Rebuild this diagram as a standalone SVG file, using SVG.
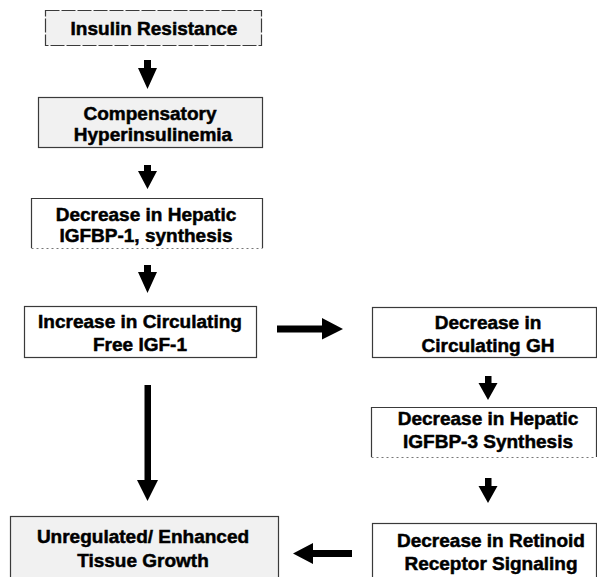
<svg xmlns="http://www.w3.org/2000/svg" width="597" height="577" viewBox="0 0 597 577">
<style>
.box{fill:#ffffff;stroke:#3a3a3a;stroke-width:1.2}
.gbox{fill:#f1f1f1;stroke:#3a3a3a;stroke-width:1.2}
.dash{fill:none;stroke:#777;stroke-width:1;stroke-dasharray:2 3}
text{font-family:"Liberation Sans",Arial,sans-serif;font-weight:bold;font-size:19px;fill:#000;stroke:#000;stroke-width:0.5;text-anchor:middle}
.arr{fill:#000}
</style>
<rect width="597" height="577" fill="#fff"/>
<g id="n1">
<rect class="gbox" x="45.5" y="10.5" width="216" height="35" stroke-dasharray="14 2"/>
<text x="154" y="35">Insulin Resistance</text>
</g>
<g id="n2">
<rect class="gbox" x="38.5" y="97.5" width="224" height="50"/>
<text x="150" y="120">Compensatory</text>
<text x="153" y="141">Hyperinsulinemia</text>
</g>
<g id="n3">
<path class="box" d="M31.5 248 V198.5 H262.5 V248" fill="none"/>
<line class="dash" x1="31.5" y1="248.5" x2="262.5" y2="248.5"/>
<text x="146" y="221">Decrease in Hepatic</text>
<text x="146" y="242">IGFBP-1, synthesis</text>
</g>
<g id="n4">
<rect class="box" x="24.5" y="306.5" width="232" height="51"/>
<text x="140" y="328">Increase in Circulating</text>
<text x="140" y="351">Free IGF-1</text>
</g>
<g id="n5">
<rect class="gbox" x="10.5" y="516.5" width="268" height="70"/>
<text x="143" y="543">Unregulated/ Enhanced</text>
<text x="143" y="567">Tissue Growth</text>
</g>
<g id="n6">
<rect class="box" x="372.5" y="307.5" width="224" height="50"/>
<text x="488" y="329">Decrease in</text>
<text x="488" y="352">Circulating GH</text>
</g>
<g id="n7">
<path class="box" d="M371.5 457 V407.5 H596.5 V457" fill="none"/>
<line class="dash" x1="371.5" y1="457.5" x2="596.5" y2="457.5"/>
<text x="488" y="425">Decrease in Hepatic</text>
<text x="488" y="448">IGFBP-3 Synthesis</text>
</g>
<g id="n8">
<rect class="box" x="372.5" y="523.5" width="224" height="63"/>
<text x="491" y="547">Decrease in Retinoid</text>
<text x="491" y="570">Receptor Signaling</text>
</g>
<g id="connectors">
<polygon class="arr" points="144,60 151,60 151,68 157,68 147.5,89 138,68 144,68"/>
<polygon class="arr" points="144,165 151,165 151,171 157,171 147.5,189 138,171 144,171"/>
<polygon class="arr" points="144,265 151,265 151,272 157,272 147.5,293 138,272 144,272"/>
<polygon class="arr" points="144.5,385 151,385 151,480 158,480 147.5,501 137,480 144.5,480"/>
<polygon class="arr" points="277,325.5 322,325.5 322,318 343,329 322,339.5 322,332.5 277,332.5"/>
<polygon class="arr" points="485,376 491.5,376 491.5,383 497.5,383 488,400 478.5,383 485,383"/>
<polygon class="arr" points="485,478 491.5,478 491.5,486 497.5,486 488,503 478.5,486 485,486"/>
<polygon class="arr" points="352,550 313,550 313,543 293,553.5 313,564 313,557 352,557"/>
</g>
</svg>
